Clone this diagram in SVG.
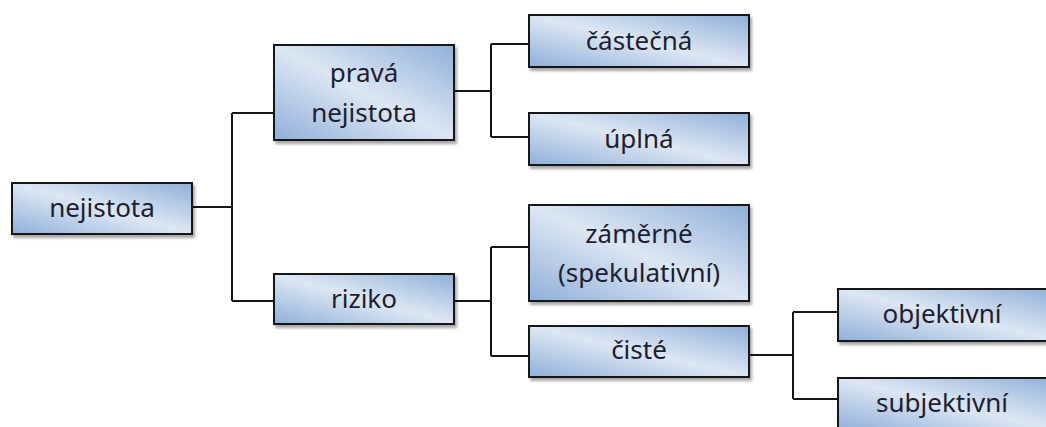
<svg xmlns="http://www.w3.org/2000/svg" width="1046" height="427" viewBox="0 0 1046 427">
<style>
.box{fill:url(#g);stroke:#151515;stroke-width:2;filter:url(#sh)}
.t{font-family:"Noto Sans","Open Sans","Liberation Sans",sans-serif;font-size:26px;fill:#1e1e30;text-anchor:middle}
.c{fill:none;stroke:#151515;stroke-width:2}
</style>
<defs>
<linearGradient id="g" x1="0" y1="1" x2="1" y2="0">
<stop offset="0" stop-color="#8fafd9"/>
<stop offset="0.5" stop-color="#dde7f3"/>
<stop offset="1" stop-color="#8fafd9"/>
</linearGradient>
<filter id="sh" x="-10%" y="-20%" width="125%" height="150%">
<feDropShadow dx="2" dy="3" stdDeviation="1.8" flood-color="#000" flood-opacity="0.35"/>
</filter>
</defs>
<rect width="1046" height="427" fill="#fff"/>
<g id="connectors">
<path class="c" d="M192 207H232M232 113V301M232 113H274M232 301H274"/>
<path class="c" d="M454 91H491M491 44V137M491 44H529M491 137H529"/>
<path class="c" d="M454 301H491M491 247V356M491 247H529M491 356H529"/>
<path class="c" d="M748 355H793M793 312V399M793 312H838M793 399H838"/>
</g>
<g id="n1"><rect class="box" x="12" y="183" width="180" height="51"/><text class="t" x="102" y="217">nejistota</text></g>
<g id="n2"><rect class="box" x="274" y="45" width="180" height="95"/><text class="t" x="364" y="82">pravá</text><text class="t" x="364" y="122">nejistota</text></g>
<g id="n3"><rect class="box" x="274" y="274" width="180" height="50"/><text class="t" x="364" y="308">riziko</text></g>
<g id="n4"><rect class="box" x="529" y="15" width="220" height="52"/><text class="t" x="639" y="50">částečná</text></g>
<g id="n5"><rect class="box" x="529" y="113" width="220" height="52"/><text class="t" x="639" y="148">úplná</text></g>
<g id="n6"><rect class="box" x="529" y="205" width="220" height="96"/><text class="t" x="639" y="243">záměrné</text><text class="t" x="639" y="282">(spekulativní)</text></g>
<g id="n7"><rect class="box" x="529" y="326" width="220" height="51"/><text class="t" x="639" y="359">čisté</text></g>
<g id="n8"><rect class="box" x="838" y="289" width="220" height="52"/><text class="t" x="942" y="323">objektivní</text></g>
<g id="n9"><rect class="box" x="838" y="378" width="220" height="52"/><text class="t" x="942" y="412">subjektivní</text></g>
</svg>
